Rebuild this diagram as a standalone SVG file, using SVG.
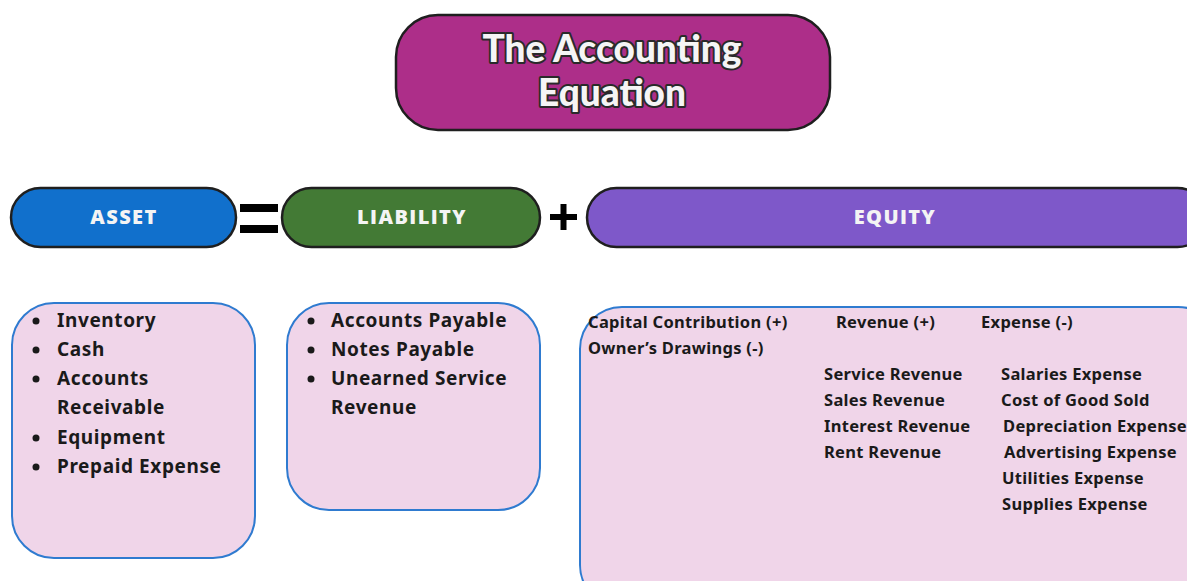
<svg xmlns="http://www.w3.org/2000/svg" width="1187" height="581" viewBox="0 0 1187 581">
<style>
.pill{stroke:#1f1f1f;stroke-width:2.5}
.hdr{font-family:"Open Sans","Noto Sans",sans-serif;font-weight:800;font-size:20px;letter-spacing:1.4px;fill:#f4f4f4;text-anchor:middle}
.box{fill:#f0d5e9;stroke:#2f7bd0;stroke-width:2}
.li{font-family:"Noto Sans","Open Sans",sans-serif;font-weight:700;font-size:19px;letter-spacing:0.6px;fill:#1a1a1a}
.eq{font-family:"Noto Sans","Open Sans",sans-serif;font-weight:700;font-size:16.5px;letter-spacing:0.3px;fill:#1a1a1a}
.title{font-family:"Lato","Noto Sans",sans-serif;font-weight:900;font-size:37px;fill:#f5f5f5;stroke:#2a2a2a;stroke-width:4;paint-order:stroke;stroke-linejoin:round;text-anchor:middle}
</style>
<rect width="1187" height="581" fill="#ffffff"/>
<g id="title">
<rect x="396" y="15" width="434" height="115" rx="42" fill="#ad2e89" class="pill"/>
<text class="title" x="612" y="62">The Accounting</text>
<text class="title" x="612" y="106">Equation</text>
</g>
<g id="asset">
<rect x="11" y="188" width="225" height="59" rx="29.5" fill="#1170cc" class="pill"/>
<text class="hdr" x="124" y="224">ASSET</text>
</g>
<g id="liability">
<rect x="282" y="188" width="258" height="59" rx="29.5" fill="#437a35" class="pill"/>
<text class="hdr" x="412" y="224">LIABILITY</text>
</g>
<g id="equity">
<rect x="587" y="188" width="620" height="59" rx="29.5" fill="#7e58c9" class="pill"/>
<text class="hdr" x="895" y="224">EQUITY</text>
</g>
<g id="operators">
<rect x="240" y="204" width="38" height="8" fill="#000"/>
<rect x="240" y="225" width="38" height="8" fill="#000"/>
<rect x="550" y="214" width="27" height="6" fill="#000"/>
<rect x="560.5" y="204" width="6" height="26" fill="#000"/>
</g>
<g id="asset-list">
<rect x="12" y="303" width="243" height="255" rx="42" class="box"/>
<g fill="#1a1a1a"><circle cx="36" cy="321" r="3.5"/><circle cx="36" cy="350" r="3.5"/><circle cx="36" cy="379" r="3.5"/><circle cx="36" cy="438" r="3.5"/><circle cx="36" cy="467" r="3.5"/></g>
<text class="li" x="57" y="327">Inventory</text>
<text class="li" x="57" y="356">Cash</text>
<text class="li" x="57" y="385">Accounts</text>
<text class="li" x="57" y="414">Receivable</text>
<text class="li" x="57" y="444">Equipment</text>
<text class="li" x="57" y="473">Prepaid Expense</text>
</g>
<g id="liability-list">
<rect x="287" y="303" width="253" height="207" rx="42" class="box"/>
<g fill="#1a1a1a"><circle cx="311" cy="321" r="3.5"/><circle cx="311" cy="350" r="3.5"/><circle cx="311" cy="379" r="3.5"/></g>
<text class="li" x="331" y="327">Accounts Payable</text>
<text class="li" x="331" y="356">Notes Payable</text>
<text class="li" x="331" y="385">Unearned Service</text>
<text class="li" x="331" y="414">Revenue</text>
</g>
<g id="equity-list">
<rect x="580" y="307" width="640" height="300" rx="42" class="box"/>
<text class="eq" x="588" y="328">Capital Contribution (+)</text>
<text class="eq" x="588" y="354">Owner’s Drawings (-)</text>
<text class="eq" x="836" y="328">Revenue (+)</text>
<text class="eq" x="981" y="328">Expense (-)</text>
<text class="eq" x="824" y="380">Service Revenue</text>
<text class="eq" x="824" y="406">Sales Revenue</text>
<text class="eq" x="824" y="432">Interest Revenue</text>
<text class="eq" x="824" y="458">Rent Revenue</text>
<text class="eq" x="1001" y="380">Salaries Expense</text>
<text class="eq" x="1001" y="406">Cost of Good Sold</text>
<text class="eq" x="1003" y="432">Depreciation Expense</text>
<text class="eq" x="1004" y="458">Advertising Expense</text>
<text class="eq" x="1002" y="484">Utilities Expense</text>
<text class="eq" x="1002" y="510">Supplies Expense</text>
</g>
</svg>
